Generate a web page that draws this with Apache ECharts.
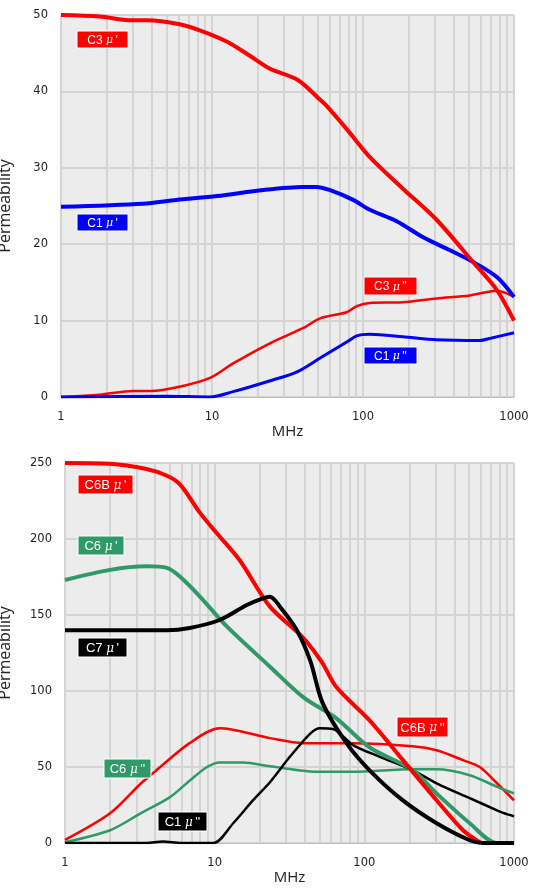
<!DOCTYPE html>
<html><head><meta charset="utf-8">
<script src="https://cdn.jsdelivr.net/npm/echarts@6/dist/echarts.min.js"></script>
<style>html,body{margin:0;padding:0;background:#fff}#c{width:540px;height:891px}</style>
</head><body><div id="c"></div>
<script>
// ---------- data (frequency in MHz, permeability) ----------
const minorGridFreqs = [2,3,4,5,6,7,8,9,20,30,40,50,60,70,80,90,200,300,400,500,600,700,800,900];

// Top chart
const topC3ReFreq = [1, 1.8, 2.9, 3.7, 6.1, 8.3, 12.6, 18, 24, 37, 52, 58, 80, 111, 183, 307, 533, 770, 1000];
const topC3ReVal  = [50, 49.8, 49.3, 49.3, 48.8, 48.0, 46.5, 44.6, 43.0, 41.5, 38.9, 38.0, 34.8, 31.4, 27.3, 23.2, 17.7, 14.0, 10.0];
const topC1ReFreq = [1, 3.5, 5.8, 10.8, 21.8, 40, 49, 60, 86, 111, 167, 250, 377, 533, 770, 1000];
const topC1ReVal  = [24.9, 25.3, 25.8, 26.3, 27.1, 27.5, 27.5, 27.1, 25.8, 24.5, 23.0, 20.9, 19.2, 17.7, 15.7, 13.1];
const topC3ImFreq = [1, 1.8, 3, 3.9, 6.1, 9.7, 13.8, 24, 40, 52, 78, 91, 111, 183, 307, 511, 770, 1000];
const topC3ImVal  = [0, 0.3, 0.8, 0.8, 1.35, 2.5, 4.4, 7.0, 9.0, 10.3, 11.1, 11.9, 12.3, 12.4, 12.9, 13.3, 13.9, 13.1];
const topC1ImFreq = [1, 5, 9.7, 13.8, 24, 36.6, 52, 78, 91, 111, 183, 307, 594, 700, 1000];
const topC1ImVal  = [0, 0.1, 0, 0.7, 2.1, 3.3, 5.1, 7.2, 8.0, 8.2, 7.9, 7.5, 7.4, 7.7, 8.4];

// Bottom chart
const botC6BReFreq = [1, 2, 3.5, 4.8, 5.9, 8.0, 10.3, 14.7, 23.4, 39, 52, 65, 108, 181, 304, 456, 600];
const botC6BReVal  = [250, 249.5, 246, 241.6, 235.6, 217, 204, 186, 155.5, 135, 119, 102.6, 80.8, 54.5, 28.1, 8.4, 0];
const botC6ReFreq  = [1, 2, 3.5, 4.8, 5.9, 8.0, 12.1, 23.4, 39, 65, 108, 210, 304, 506, 770, 1000];
const botC6ReVal   = [173, 179.7, 182, 181, 175, 162, 142.3, 116, 96, 82, 63, 48, 32.6, 13, 0, 0];
const botC7ReFreq  = [1, 4.8, 6.8, 10.8, 16.4, 21, 23.4, 27.3, 35.4, 43.5, 52.7, 76, 108, 181, 304, 506, 620, 1000];
const botC7ReVal   = [140, 140, 141.5, 146.7, 156.6, 161, 162, 155.5, 140, 120, 92, 65.7, 48, 28, 13, 1.8, 0, 0];
const botC6BImFreq = [1, 2, 3.2, 4.1, 6.8, 10.8, 23.4, 39, 84, 210, 304, 456, 590, 770, 1000];
const botC6BImVal  = [2, 19.5, 39, 48, 65.7, 75.5, 69, 65.7, 65.7, 63.7, 61, 54.5, 50, 39.3, 28];
const botC6ImFreq  = [1, 2, 3.2, 5, 6.8, 8.9, 10.8, 15.5, 23.4, 50.5, 84, 210, 304, 506, 770, 1000];
const botC6ImVal   = [0.5, 8.4, 19.5, 30, 41, 50, 53, 53, 50.5, 46.8, 46.8, 48.5, 48.5, 44.6, 37, 32.7];
const botC1ImFreq  = [1, 3.5, 4.5, 6, 9.8, 13.3, 18, 23.4, 31.8, 43.5, 50.5, 61.6, 84, 127, 210, 304, 506, 770, 846, 1000];
const botC1ImVal   = [0, 0, 1, 0, 0, 13, 28, 40, 56.7, 72, 75.5, 75, 64.4, 56.7, 48, 39.3, 29.5, 21.5, 19.8, 17.6];

// ---------- chart ----------
const RED = '#ff0000', BLUE = '#0000ff', GREEN = '#2f9a68', BLACK = '#000000';
const GRIDC = '#d4d4d4';
const chart = echarts.init(document.getElementById('c'), null, {renderer: 'canvas'});

function mk(f, v, color, width, idx) {
  return {type: 'line', xAxisIndex: idx, yAxisIndex: idx, data: f.map((x, i) => [x, v[i]]),
    smooth: 0.3, symbol: 'none', showSymbol: false, silent: true, z: 5,
    lineStyle: {color: color, width: width}};
}
function minorGrid(idx) {
  return {type: 'line', xAxisIndex: idx, yAxisIndex: idx, data: [[1, 0]], symbol: 'none',
    lineStyle: {opacity: 0, width: 0}, silent: true, z: 2,
    markLine: {silent: true, symbol: ['none', 'none'], label: {show: false}, z: 2,
      animation: false, lineStyle: {color: GRIDC, width: 2, type: 'solid'},
      data: minorGridFreqs.map(f => ({xAxis: f}))}};
}
function xAx(idx, gap) {
  return {type: 'log', logBase: 10, gridIndex: idx, min: 1, max: 1000, z: 3,
    name: 'MHz', nameLocation: 'middle', nameGap: gap,
    nameTextStyle: {fontFamily: 'Open Sans', fontSize: 15, color: '#222'},
    axisLine: {show: true, lineStyle: {color: '#bfbfbf', width: 1}},
    axisTick: {show: false},
    axisLabel: {fontFamily: 'DejaVu Sans', fontSize: 11.5, color: '#222', margin: 14,
      formatter: v => String(Math.round(v))},
    splitLine: {show: true, lineStyle: {color: GRIDC, width: 2}}};
}
function yAx(idx, max, interval, gap) {
  return {type: 'value', gridIndex: idx, min: 0, max: max, interval: interval, z: 3,
    name: 'Permeability', nameLocation: 'middle', nameGap: gap,
    nameTextStyle: {fontFamily: 'Open Sans', fontSize: 16, color: '#222'},
    axisLine: {show: false}, axisTick: {show: false},
    axisLabel: {fontFamily: 'DejaVu Sans', fontSize: 11.5, color: '#222', margin: 13},
    splitLine: {show: true, lineStyle: {color: GRIDC, width: 2}}};
}

const boxes = [
  // [left, top, width, height, color, name, suffix, fontSize]
  [77, 31, 51, 17, RED, 'C3 ', "'", 12],
  [77, 214, 51, 17, BLUE, 'C1 ', "'", 12],
  [364, 277, 53, 18, RED, 'C3 ', "''", 12],
  [364, 347, 53, 17, BLUE, 'C1 ', "''", 12],
  [78, 475, 55, 19, RED, 'C6B ', "'", 13],
  [78, 536, 46, 19, GREEN, 'C6 ', "'", 13],
  [78, 638, 49, 19, BLACK, 'C7 ', "'", 13],
  [104, 759, 47, 19, GREEN, 'C6 ', "''", 13],
  [158, 812, 49, 19, BLACK, 'C1 ', "''", 13],
  [397, 717, 51, 20, RED, 'C6B ', "''", 13]
];
const graphics = [];
boxes.forEach(b => {
  graphics.push({type: 'rect', z: 20, shape: {x: b[0], y: b[1], width: b[2], height: b[3]},
    style: {fill: b[4], stroke: '#ffffff', lineWidth: 1}});
  graphics.push({type: 'text', z: 21, style: {x: b[0] + b[2] / 2, y: b[1] + b[3] / 2 + 1, align: 'center', verticalAlign: 'middle',
    text: '{a|' + b[5] + '}{m|\u03BC}{a|\u2009' + b[6] + '}',
    rich: {a: {fill: '#fff', fontFamily: 'Liberation Sans', fontSize: b[7]},
           m: {fill: '#fff', fontFamily: 'DejaVu Serif', fontStyle: 'italic', fontSize: b[7] - 1}}}});
});

chart.setOption({
  animation: false,
  backgroundColor: '#ffffff',
  grid: [
    {left: 61, right: 26, top: 15, height: 382, show: true, backgroundColor: '#ececec', borderWidth: 0, z: 0, outerBoundsMode: 'none'},
    {left: 65, right: 26, top: 463, height: 380, show: true, backgroundColor: '#ececec', borderWidth: 0, z: 0, outerBoundsMode: 'none'}
  ],
  xAxis: [xAx(0, 24), xAx(1, 26)],
  yAxis: [yAx(0, 50, 10, 48), yAx(1, 250, 50, 52)],
  series: [
    minorGrid(0), minorGrid(1),
    mk(topC3ImFreq, topC3ImVal, RED, 2.5, 0),
    mk(topC1ImFreq, topC1ImVal, BLUE, 3, 0),
    mk(topC1ReFreq, topC1ReVal, BLUE, 4, 0),
    mk(topC3ReFreq, topC3ReVal, RED, 4, 0),
    mk(botC6BImFreq, botC6BImVal, RED, 2.5, 1),
    mk(botC6ImFreq, botC6ImVal, GREEN, 2.5, 1),
    mk(botC1ImFreq, botC1ImVal, BLACK, 2.5, 1),
    mk(botC6ReFreq, botC6ReVal, GREEN, 4, 1),
    mk(botC6BReFreq, botC6BReVal, RED, 4, 1),
    mk(botC7ReFreq, botC7ReVal, BLACK, 4, 1)
  ],
  graphic: graphics
});
</script>
</body></html>
